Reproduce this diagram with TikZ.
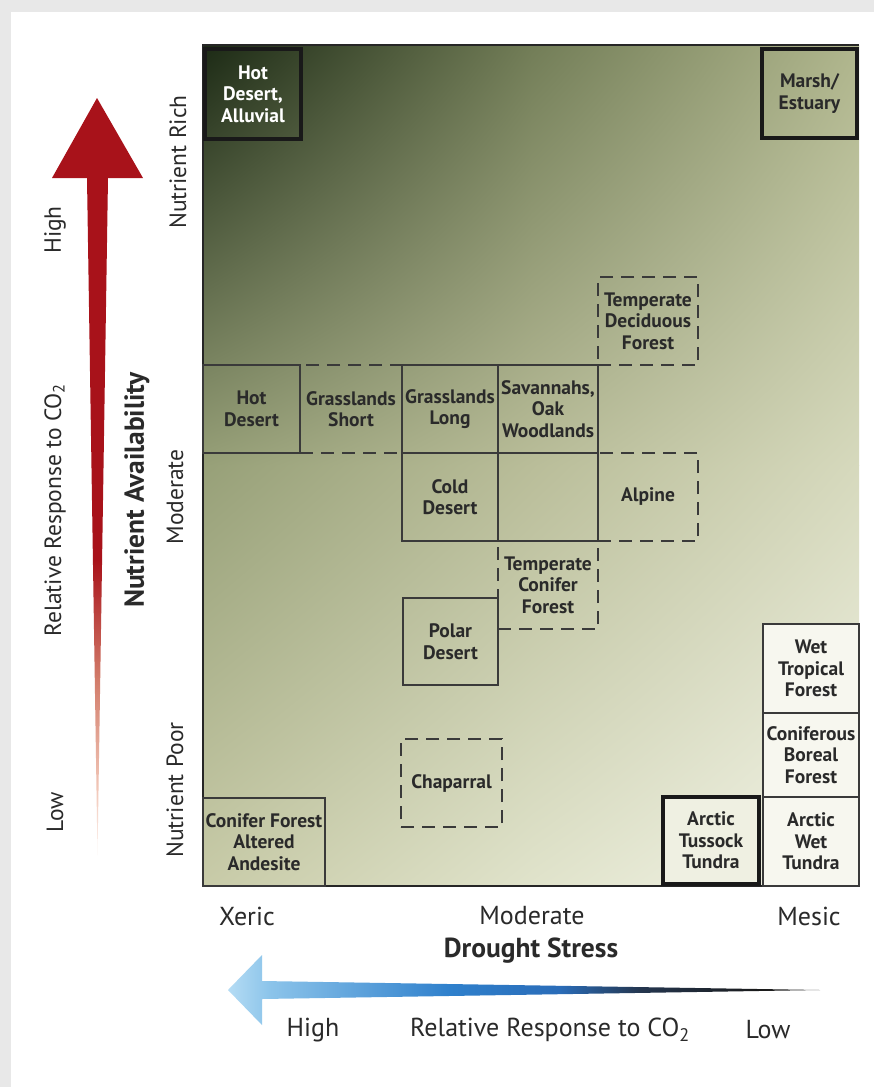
\documentclass[tikz,border=0pt]{standalone}
\usepackage{fontspec}
\setmainfont{PT Sans}
\usetikzlibrary{shadings}
\definecolor{bggray}{HTML}{E8E8E8}
\definecolor{linec}{HTML}{3A3A3A}
\definecolor{textc}{HTML}{2A2A2A}
\definecolor{gA}{HTML}{1C2A15}
\definecolor{gB}{HTML}{727D57}
\definecolor{gC}{HTML}{B0B68D}
\definecolor{gD}{HTML}{97A078}
\definecolor{gE}{HTML}{B9BD99}
\definecolor{gF}{HTML}{D6D9BD}
\definecolor{gG}{HTML}{C8CBA8}
\definecolor{gH}{HTML}{E0E3CB}
\definecolor{gI}{HTML}{F4F5E9}
\definecolor{redA}{HTML}{A8121A}
\definecolor{redB}{HTML}{D27C6A}
\definecolor{redC}{HTML}{F2C8B9}
\definecolor{redD}{HTML}{FDF6F3}
\definecolor{blA}{HTML}{B5DCF4}
\definecolor{blB}{HTML}{8CC4EA}
\definecolor{blC}{HTML}{2F80CC}
\definecolor{blD}{HTML}{2A6CB8}
\definecolor{blE}{HTML}{24364F}
\definecolor{blF}{HTML}{1A1A1A}
\definecolor{blG}{HTML}{3A3A3A}
\definecolor{pale}{HTML}{F7F7EF}
\definecolor{paleB}{HTML}{EFF0E2}
\pgfdeclareverticalshading{redfade}{100bp}{color(0bp)=(redD); color(25bp)=(redD); color(29.3bp)=(redC); color(36.6bp)=(redB); color(44.5bp)=(redA); color(75bp)=(redA); color(100bp)=(redA)}
\pgfdeclarehorizontalshading{bluefade}{100bp}{color(0bp)=(blA); color(25bp)=(blA); color(28.5bp)=(blB); color(43.7bp)=(blC); color(53bp)=(blD); color(59.8bp)=(blE); color(70bp)=(blF); color(75bp)=(blG); color(100bp)=(blG)}
\newcommand\boxfont{\fontsize{19.5}{21.5}\selectfont\bfseries}
\newcommand\axfont{\fontsize{26}{28}\selectfont}
\newcommand\lfont{\fontsize{23.5}{26}\selectfont}
\newcommand\axbfont{\fontsize{27.5}{30}\selectfont\bfseries}
\begin{document}
\begin{tikzpicture}[x=1pt,y=-1pt,
  biome/.style={rectangle, draw=linec, line width=1.4pt, inner sep=0pt, align=center, font=\boxfont, text=textc},
  dbiome/.style={biome, dash pattern=on 13pt off 8pt, line width=1.6pt},
  tbiome/.style={biome, draw=black!90, line width=3.6pt},
  frame/.style={draw=black!85, line width=2pt},
  axlab/.style={font=\axfont, text=textc, inner sep=0pt},
  leftlab/.style={font=\lfont, text=textc, inner sep=0pt, rotate=90},
  axblab/.style={font=\axbfont, text=textc, inner sep=0pt}]
\useasboundingbox (0,0) rectangle (874,1087);
\fill[bggray] (0,0) rectangle (874,1087);
\fill[white] (11,12) rectangle (874,1087);
% background gradient (piecewise bilinear)
\shade[upper left=gA, upper right=gB, lower left=gD, lower right=gE] (203,45) rectangle (531.5,465.5);
\shade[upper left=gB, upper right=gC, lower left=gE, lower right=gF] (531,45) rectangle (859,465.5);
\shade[upper left=gD, upper right=gE, lower left=gG, lower right=gH] (203,465) rectangle (531.5,886);
\shade[upper left=gE, upper right=gF, lower left=gH, lower right=gI] (531,465) rectangle (859,886);
% frame
\coordinate (fTL) at (203,45);
\coordinate (fTR) at (859,45);
\coordinate (fBL) at (203,886);
\coordinate (fBR) at (859,886);
\draw[frame] (fBR) -- (fBL) -- (fTL) -- (fTR);
% biome boxes
\node[biome, minimum width=100pt, minimum height=88pt] (emptycell) at (548,497) {};
\node[biome, minimum width=97pt, minimum height=88pt] (hotd) at (251.5,409) {Hot\\Desert};
\node[biome, minimum width=96pt, minimum height=88pt] (glong) at (450,409) {Grasslands\\Long};
\node[biome, minimum width=100pt, minimum height=88pt] (sav) at (548,409) {Savannahs,\\Oak\\Woodlands};
\node[biome, minimum width=96pt, minimum height=88pt] (cold) at (450,497) {Cold\\Desert};
\node[biome, minimum width=95pt, minimum height=87pt] (polar) at (450.5,641.5) {Polar\\Desert};
\node[biome, minimum width=122pt, minimum height=88pt] (andes) at (264,842) {Conifer Forest\\Altered\\Andesite};
\node[dbiome, minimum width=102pt, minimum height=88pt] (gshort) at (351,409) {Grasslands\\Short};
\node[dbiome, minimum width=100pt, minimum height=88pt] (tdec) at (648,321) {Temperate\\Deciduous\\Forest};
\node[dbiome, minimum width=100pt, minimum height=88pt] (alp) at (648,497) {Alpine};
\node[dbiome, minimum width=100pt, minimum height=88pt] (tcon) at (548,585) {Temperate\\Conifer\\Forest};
\node[dbiome, minimum width=101pt, minimum height=88pt] (chap) at (451.5,783) {Chaparral};
\node[biome, fill=pale, minimum width=96pt, minimum height=89pt] (wtrop) at (811,668.5) {Wet\\Tropical\\Forest};
\node[biome, fill=pale, minimum width=96pt, minimum height=84pt] (boreal) at (811,755) {Coniferous\\Boreal\\Forest};
\node[biome, fill=pale, minimum width=96pt, minimum height=89pt] (awet) at (811,841.5) {Arctic\\Wet\\Tundra};
\node[tbiome, fill=paleB, minimum width=96pt, minimum height=87pt] (atus) at (711,840.5) {Arctic\\Tussock\\Tundra};
\node[tbiome, minimum width=96pt, minimum height=90pt, text=white] (hda) at (253,94) {Hot\\Desert,\\Alluvial};
\node[tbiome, minimum width=95pt, minimum height=89pt] (marsh) at (809.5,93.5) {Marsh/\\Estuary};
% bottom axis labels
\node[axlab] (xeric) at (247,916) {Xeric};
\node[axlab] (xmod) at (532,916) {Moderate};
\node[axlab] (mesic) at (809,916) {Mesic};
\node[axblab] (drought) at (531,951) {Drought Stress};
\node[axlab] (bhigh) at (313,1030) {High};
\node[axlab] (brel) at (550,1030) {Relative Response to CO\textsubscript{2}};
\node[axlab] (blow) at (768,1030) {Low};
% left axis labels
\node[leftlab] (nrich) at (178,162) {Nutrient Rich};
\node[leftlab] (nmod) at (175,497) {Moderate};
\node[leftlab] (npoor) at (175,790) {Nutrient Poor};
\node[axblab, rotate=90] (navail) at (137,490) {Nutrient Availability};
\node[leftlab] (lhigh) at (55,230) {High};
\node[leftlab] (lrel) at (55,510) {Relative Response to CO\textsubscript{2}};
\node[leftlab] (llow) at (55,812) {Low};
% arrows
\shade[shading=redfade] (97,98) -- (143,178) -- (108,178) -- (97.5,855) -- (87,178) -- (52,178) -- cycle;
\shade[shading=bluefade] (228,990) -- (262,955) -- (262,981) -- (820,990) -- (262,999) -- (262,1025) -- cycle;
\end{tikzpicture}
\end{document}
